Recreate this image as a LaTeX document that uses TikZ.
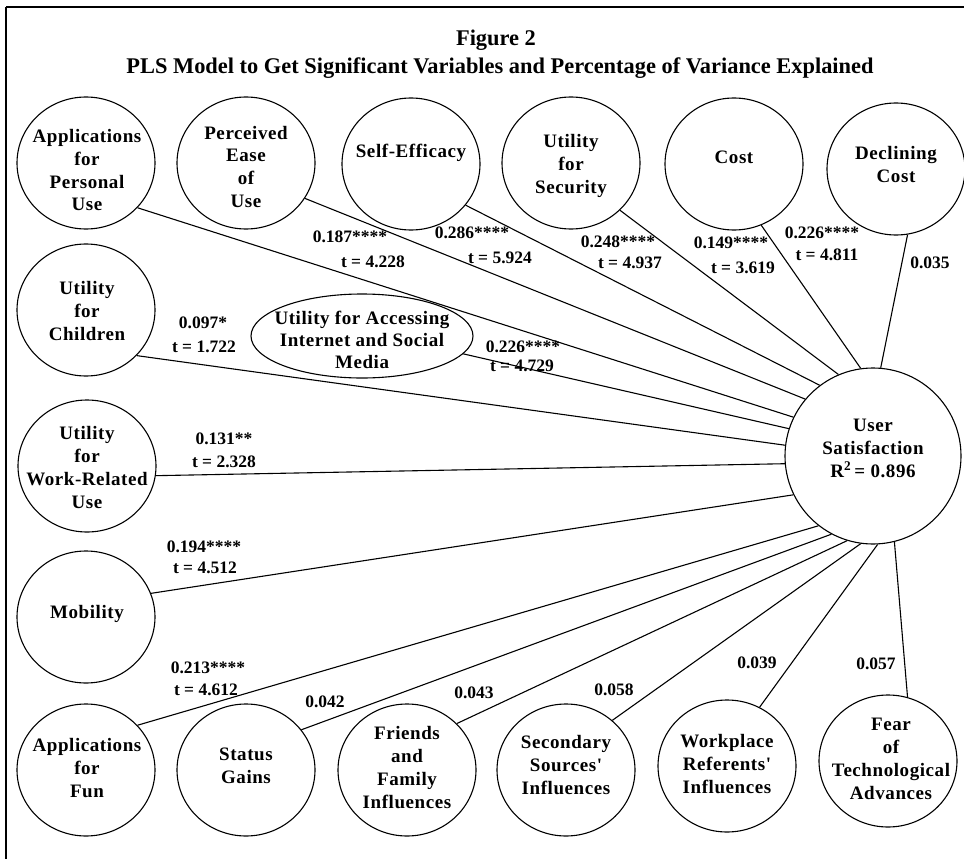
\documentclass[tikz,border=0pt]{standalone}
\usepackage{fontspec}
\setmainfont{Liberation Serif}
\newfontfamily\lblfont[LetterSpace=3]{Liberation Serif}
\usetikzlibrary{shapes.geometric}
\tikzset{
  var/.style={draw, line width=1.1pt, ellipse, minimum width=138pt, minimum height=132pt, inner sep=0pt},
  lbl/.style={font=\lblfont\bfseries\fontsize{19}{23}\selectfont, align=center, inner sep=0pt},
  coef/.style={font=\bfseries\fontsize{17.5}{21}\selectfont, inner sep=0pt},
  conn/.style={line width=1.1pt},
  ttl/.style={font=\bfseries\fontsize{22.4}{26}\selectfont, inner sep=0pt},
}
\begin{document}
\begin{tikzpicture}[x=1pt,y=-1pt]
\useasboundingbox (0,0) rectangle (964,859);
% frame
\draw[line width=1.8pt] (6,7) -- (964,7);
\draw[line width=1.5pt] (6,7) -- (6,859);
% title
\node[ttl] (t1) at (496,40) {Figure 2};
\node[ttl] (t2) at (500,68) {PLS Model to Get Significant Variables and Percentage of Variance Explained};
% variables
\node[var] (ap) at (86,163) {};
\node[var] (pe) at (246,163) {};
\node[var] (se) at (411,164) {};
\node[var] (sec) at (571,163) {};
\node[var] (cost) at (734,164) {};
\node[var] (dc) at (896,169) {};
\node[var] (ch) at (86,310) {};
\node[draw, line width=1.1pt, ellipse, minimum width=222pt, minimum height=84pt, inner sep=0pt] (inet) at (362,336) {};
\node[var] (wr) at (87,466) {};
\node[var] (mob) at (86,617) {};
\node[var] (fun) at (86,770) {};
\node[var] (sg) at (246,770) {};
\node[var] (ff) at (407,770) {};
\node[var] (ss) at (566,770) {};
\node[var] (wp) at (727,766) {};
\node[var] (fear) at (888,761) {};
\node[draw, line width=1.1pt, circle, minimum size=176pt, inner sep=0pt] (us) at (873,456) {};
% labels
\node[lbl] (ap-t) at (87,170) {Applications\\for\\Personal\\Use};
\node[lbl] (pe-t) at (246,167) {Perceived\\Ease\\of\\Use};
\node[lbl] (se-t) at (411,153) {Self-Efficacy};
\node[lbl] (sec-t) at (571,166) {Utility\\for\\Security};
\node[lbl] (cost-t) at (734,157) {Cost};
\node[lbl] (dc-t) at (896,165) {Declining\\Cost};
\node[lbl] (ch-t) at (87,311) {Utility\\for\\Children};
\node[lbl, font=\lblfont\bfseries\fontsize{19}{22}\selectfont] (inet-t) at (362,340) {Utility for Accessing\\Internet and Social\\Media};
\node[lbl] (wr-t) at (87,467) {Utility\\for\\Work-Related\\Use};
\node[lbl] (mob-t) at (87,614) {Mobility};
\node[lbl] (fun-t) at (87,768) {Applications\\for\\Fun};
\node[lbl] (sg-t) at (246,766) {Status\\Gains};
\node[lbl] (ff-t) at (407,768) {Friends\\and\\Family\\Influences};
\node[lbl] (ss-t) at (566,765) {Secondary\\Sources'\\Influences};
\node[lbl] (wp-t) at (727,764) {Workplace\\Referents'\\Influences};
\node[lbl] (fear-t) at (891,759) {Fear\\of\\Technological\\Advances};
\node[lbl] (us-t) at (873,448) {User\\Satisfaction\\R\textsuperscript{2}\,= 0.896};
% connectors
\draw[conn] (ap.-41) -- (us.154);
\draw[conn] (pe.-31) -- (us.140);
\draw[conn] (se.-37) -- (us.127);
\draw[conn] (sec.-44) -- (us.113);
\draw[conn] (cost.-66) -- (us.98);
\draw[conn] (dc.-80) -- (us.85);
\draw[conn] (ch.-42) -- (us.173);
\draw[conn] (inet.-10) -- (us.162);
\draw[conn] (wr.-8) -- (us.185);
\draw[conn] (mob.20) -- (us.206);
\draw[conn] (fun.41) -- (us.232);
\draw[conn] (sg.36) -- (us.242);
\draw[conn] (ff.43) -- (us.253);
\draw[conn] (ss.47) -- (us.262);
\draw[conn] (wp.61) -- (us.273);
\draw[conn] (fear.73) -- (us.284);
% coefficients
\node[coef] (c1a) at (350,237) {0.187****};
\node[coef] (c1b) at (373,262) {t = 4.228};
\node[coef] (c2a) at (472,233) {0.286****};
\node[coef] (c2b) at (500,258) {t = 5.924};
\node[coef] (c3a) at (618,242) {0.248****};
\node[coef] (c3b) at (630,263) {t = 4.937};
\node[coef] (c4a) at (731,243) {0.149****};
\node[coef] (c4b) at (743,268) {t = 3.619};
\node[coef] (c5a) at (822,233) {0.226****};
\node[coef] (c5b) at (827,255) {t = 4.811};
\node[coef] (c6) at (930,263) {0.035};
\node[coef] (c7a) at (203,323) {0.097*};
\node[coef] (c7b) at (204,347) {t = 1.722};
\node[coef] (c8a) at (523,347) {0.226****};
\node[coef] (c8b) at (522,366) {t = 4.729};
\node[coef] (c9a) at (224,439) {0.131**};
\node[coef] (c9b) at (224,462) {t = 2.328};
\node[coef] (c10a) at (204,547) {0.194****};
\node[coef] (c10b) at (205,568) {t = 4.512};
\node[coef] (c11a) at (208,668) {0.213****};
\node[coef] (c11b) at (206,690) {t = 4.612};
\node[coef] (c12) at (325,702) {0.042};
\node[coef] (c13) at (474,693) {0.043};
\node[coef] (c14) at (614,690) {0.058};
\node[coef] (c15) at (757,663) {0.039};
\node[coef] (c16) at (876,664) {0.057};
\end{tikzpicture}
\end{document}
